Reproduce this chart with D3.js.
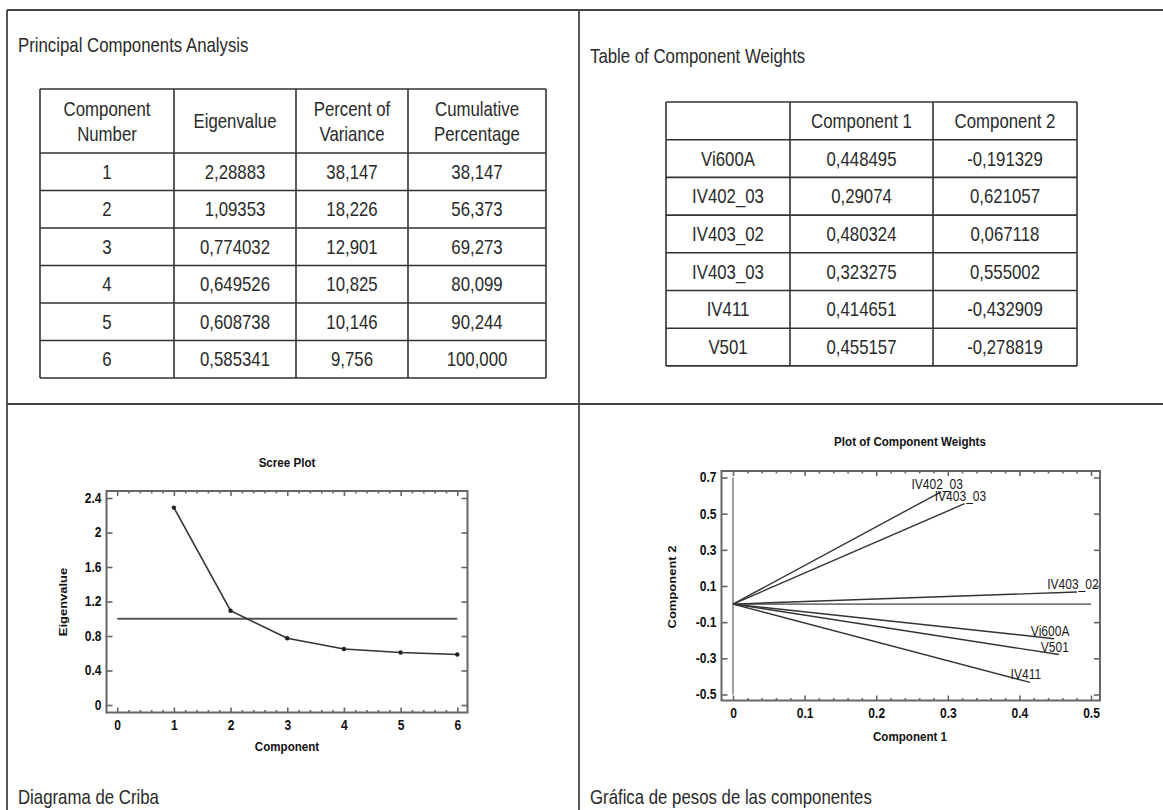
<!DOCTYPE html>
<html>
<head>
<meta charset="utf-8">
<script src="https://cdn.jsdelivr.net/npm/d3@7"></script>
<style>
  html, body { margin: 0; padding: 0; background: #fff; }
  svg { display: block; }
  .tbl { font-family: "Liberation Sans", Arial, sans-serif; font-size: 20px; fill: #2a2a2a; }
  .plot { font-family: "Liberation Sans", Arial, sans-serif; font-weight: bold; fill: #111; }
</style>
</head>
<body>
<script>
// ---- Principal components analysis: eigenvalues ----
const pcaHeaders = [["Component", "Number"], ["Eigenvalue"], ["Percent of", "Variance"], ["Cumulative", "Percentage"]];
const componentNumbers = [1, 2, 3, 4, 5, 6];
const eigenvalues = [2.28883, 1.09353, 0.774032, 0.649526, 0.608738, 0.585341];
const percentVariance = [38.147, 18.226, 12.901, 10.825, 10.146, 9.756];
const cumulativePercent = [38.147, 56.373, 69.273, 80.099, 90.244, 100.000];

// ---- Component weights ----
const weightHeaders = [[""], ["Component 1"], ["Component 2"]];
const variables = ["Vi600A", "IV402_03", "IV403_02", "IV403_03", "IV411", "V501"];
const weight1 = [0.448495, 0.29074, 0.480324, 0.323275, 0.414651, 0.455157];
const weight2 = [-0.191329, 0.621057, 0.067118, 0.555002, -0.432909, -0.278819];

// ---- Axis ticks ----
const screeXTicks = [0, 1, 2, 3, 4, 5, 6];
const screeYTicks = [0, 0.4, 0.8, 1.2, 1.6, 2, 2.4];
const screeCutoff = 1;
const weightXTicks = [0, 0.1, 0.2, 0.3, 0.4, 0.5];
const weightYTicks = [-0.5, -0.3, -0.1, 0.1, 0.3, 0.5, 0.7];

// ---- Captions ----
const panelTitles = ["Principal Components Analysis", "Table of Component Weights"];
const panelCaptions = ["Diagrama de Criba", "Gráfica de pesos de las componentes"];

const W = 1163, H = 810;
const SX = 0.86;           // horizontal squeeze for plot lettering
const SX_TBL = 0.84;       // horizontal squeeze for table lettering
const svg = d3.select("body").append("svg").attr("width", W).attr("height", H);

const comma = s => s.replace(".", ",");

// text helper: narrow lettering via a horizontal scale
function label(g, x, y, str, cls, anchor = "start", baseline = "auto", sx = SX) {
  return g.append("text").attr("class", cls)
    .attr("transform", `translate(${x},${y}) scale(${sx},1)`)
    .attr("text-anchor", anchor).attr("dominant-baseline", baseline).text(str);
}

// ---- panel grid ----
const grid = svg.append("g").attr("stroke", "#444").attr("stroke-width", 1.8);
grid.append("line").attr("x1", 7).attr("y1", 10).attr("x2", W).attr("y2", 10);
grid.append("line").attr("x1", 7).attr("y1", 10).attr("x2", 7).attr("y2", H);
grid.append("line").attr("x1", 579).attr("y1", 10).attr("x2", 579).attr("y2", H);
grid.append("line").attr("x1", 7).attr("y1", 404).attr("x2", W).attr("y2", 404);

// panel titles and captions
label(svg, 18, 52, panelTitles[0], "tbl", "start", "auto", SX_TBL);
label(svg, 590, 63, panelTitles[1], "tbl", "start", "auto", SX_TBL);
label(svg, 18, 804, panelCaptions[0], "tbl", "start", "auto", SX_TBL);
label(svg, 590, 804, panelCaptions[1], "tbl", "start", "auto", SX_TBL);

// ---- generic bordered table ----
function drawTable(cols, top, headerH, rowH, headers, rows) {
  const g = svg.append("g");
  const nRows = rows.length;
  const bottom = top + headerH + nRows * rowH;
  const lines = g.append("g").attr("stroke", "#333").attr("stroke-width", 1.6);
  cols.forEach(x => lines.append("line").attr("x1", x).attr("x2", x).attr("y1", top).attr("y2", bottom));
  const ys = [top, top + headerH].concat(d3.range(1, nRows + 1).map(i => top + headerH + i * rowH));
  ys.forEach(y => lines.append("line").attr("x1", cols[0]).attr("x2", cols[cols.length - 1]).attr("y1", y).attr("y2", y));
  headers.forEach((h, j) => {
    const cx = (cols[j] + cols[j + 1]) / 2, cy = top + headerH / 2;
    h.forEach((t, k) => label(g, cx, cy + (k - (h.length - 1) / 2) * 25, t, "tbl", "middle", "central", SX_TBL));
  });
  rows.forEach((r, i) => {
    const cy = top + headerH + i * rowH + rowH / 2;
    r.forEach((t, j) => label(g, (cols[j] + cols[j + 1]) / 2, cy, t, "tbl", "middle", "central", SX_TBL));
  });
}

drawTable([40, 174, 296, 408, 546], 89, 64, 37.5, pcaHeaders,
  componentNumbers.map((c, i) => [
    String(c),
    comma(eigenvalues[i].toPrecision(6)),
    comma(percentVariance[i].toFixed(3)),
    comma(cumulativePercent[i].toFixed(3))
  ]));

drawTable([666, 790, 933, 1077], 102, 37.7, 37.7, weightHeaders,
  variables.map((v, i) => [v, comma(String(weight1[i])), comma(String(weight2[i]))]));

// ---- framed plot helper: ticks point inward on all four sides ----
function framedAxes(g, x, y, frame, xMajor, xMinor, yMajor, fmt) {
  const tickStyle = sel => {
    sel.select(".domain").remove();
    sel.selectAll("line").attr("stroke", "#666").attr("stroke-width", 1.6);
    sel.selectAll("text").attr("class", "plot").attr("font-size", 14).attr("fill", "#111");
  };
  const squeeze = sel => sel.selectAll("text").each(function () {
    const t = d3.select(this);
    const tx = +t.attr("x") || 0, ty = +t.attr("y") || 0;
    t.attr("x", null).attr("y", null).attr("transform", `translate(${tx},${ty}) scale(${SX},1)`);
  });
  g.append("g").attr("transform", `translate(0,${frame.y1})`)
    .call(d3.axisBottom(x).tickValues(xMinor).tickSize(-2.5).tickFormat("")).call(tickStyle);
  g.append("g").attr("transform", `translate(0,${frame.y1})`)
    .call(d3.axisBottom(x).tickValues(xMajor).tickSize(-5).tickPadding(8).tickFormat(fmt)).call(tickStyle).call(squeeze);
  g.append("g").attr("transform", `translate(0,${frame.y0})`)
    .call(d3.axisTop(x).tickValues(xMinor).tickSize(-2.5).tickFormat("")).call(tickStyle);
  g.append("g").attr("transform", `translate(0,${frame.y0})`)
    .call(d3.axisTop(x).tickValues(xMajor).tickSize(-5).tickFormat("")).call(tickStyle);
  g.append("g").attr("transform", `translate(${frame.x0},0)`)
    .call(d3.axisLeft(y).tickValues(yMajor).tickSize(-6).tickPadding(5).tickFormat(fmt)).call(tickStyle).call(squeeze);
  g.append("g").attr("transform", `translate(${frame.x1},0)`)
    .call(d3.axisRight(y).tickValues(yMajor).tickSize(-6).tickFormat("")).call(tickStyle);
  g.append("rect").attr("x", frame.x0).attr("y", frame.y0)
    .attr("width", frame.x1 - frame.x0).attr("height", frame.y1 - frame.y0)
    .attr("fill", "none").attr("stroke", "#666").attr("stroke-width", 2);
}

const plainFmt = d => String(d);

function plotTitle(g, x, y, str) {
  label(g, x, y, str, "plot", "middle").attr("font-size", 13.5);
}
function sideTitle(g, x, y, str) {
  g.append("text").attr("class", "plot")
    .attr("transform", `translate(${x},${y}) rotate(-90) scale(1,${SX})`)
    .attr("text-anchor", "middle").attr("font-size", 13).text(str);
}

// ---- Scree plot ----
{
  const g = svg.append("g");
  const x = d3.scaleLinear().domain([0, 6]).range([117.2, 457.3]);
  const y = d3.scaleLinear().domain([0, 2.4]).range([705, 498]);
  const frame = { x0: 106.5, x1: 467.5, y0: 491, y1: 712.5 };
  const minor = d3.range(0, 31).map(i => i * 0.2).filter(v => Math.abs(v - Math.round(v)) > 1e-6);
  framedAxes(g, x, y, frame, screeXTicks, minor, screeYTicks, plainFmt);

  g.append("line").attr("x1", x(0)).attr("x2", x(6)).attr("y1", y(screeCutoff)).attr("y2", y(screeCutoff))
    .attr("stroke", "#555").attr("stroke-width", 2);
  const pts = componentNumbers.map((c, i) => [c, eigenvalues[i]]);
  g.append("path").datum(pts)
    .attr("d", d3.line().x(d => x(d[0])).y(d => y(d[1])))
    .attr("fill", "none").attr("stroke", "#333").attr("stroke-width", 1.6);
  g.selectAll("circle.pt").data(pts).join("circle").attr("class", "pt")
    .attr("cx", d => x(d[0])).attr("cy", d => y(d[1])).attr("r", 2.2).attr("fill", "#222");

  plotTitle(g, 287, 467, "Scree Plot");
  plotTitle(g, 287, 751, "Component");
  sideTitle(g, 67, 602, "Eigenvalue");
}

// ---- Plot of component weights ----
{
  const g = svg.append("g");
  const x = d3.scaleLinear().domain([0, 0.5]).range([733, 1091]);
  const y = d3.scaleLinear().domain([-0.5, 0.7]).range([694.5, 477.5]);
  const frame = { x0: 721.5, x1: 1100, y0: 471, y1: 700.5 };
  const minor = d3.range(0, 26).map(i => i * 0.02).filter(v => Math.abs(v * 10 - Math.round(v * 10)) > 1e-6);
  framedAxes(g, x, y, frame, weightXTicks, minor, weightYTicks, plainFmt);

  // reference axes through the origin
  g.append("line").attr("x1", x(0)).attr("x2", x(0)).attr("y1", y(0.7)).attr("y2", y(-0.5))
    .attr("stroke", "#888").attr("stroke-width", 1.6);
  g.append("line").attr("x1", x(0)).attr("x2", x(0.5)).attr("y1", y(0)).attr("y2", y(0))
    .attr("stroke", "#777").attr("stroke-width", 1.6);

  const vecs = variables.map((v, i) => ({ name: v, c1: weight1[i], c2: weight2[i] }));
  g.selectAll("line.vec").data(vecs).join("line").attr("class", "vec")
    .attr("x1", x(0)).attr("y1", y(0)).attr("x2", d => x(d.c1)).attr("y2", d => y(d.c2))
    .attr("stroke", "#333").attr("stroke-width", 1.4);
  g.selectAll("text.vlab").data(vecs).join("text").attr("class", "vlab")
    .attr("transform", d => `translate(${x(d.c1) - 4},${y(d.c2) - 3}) scale(${SX},1)`)
    .attr("text-anchor", "middle")
    .attr("font-family", "Liberation Sans, Arial, sans-serif").attr("font-size", 14)
    .attr("fill", "#1a1a1a")
    .text(d => d.name);

  plotTitle(g, 910, 446, "Plot of Component Weights");
  plotTitle(g, 910, 741, "Component 1");
  sideTitle(g, 676, 587, "Component 2");
}
</script>
</body>
</html>
